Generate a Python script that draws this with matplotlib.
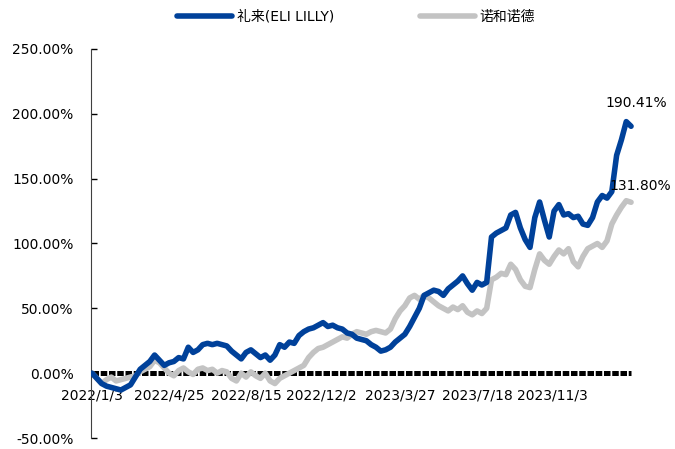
import matplotlib
matplotlib.use("Agg")
import matplotlib.pyplot as plt
import pandas as pd

plt.rcParams["font.family"] = ["DejaVu Sans", "Noto Sans CJK SC"]

# weekly closes, cumulative return (%) since 2022/1/3
dates = pd.date_range("2022-01-03", periods=113, freq="7D")

lilly = [
    0, -4, -8, -10, -11, -12, -13, -11, -9, -3,
    3, 6, 9, 14, 10, 6, 8, 9, 12, 11,
    20, 16, 18, 22, 23, 22, 23, 22, 21, 17,
    14, 11, 16, 18, 15, 12, 14, 10, 14, 22,
    20, 24, 23, 29, 32, 34, 35, 37, 39, 36,
    37, 35, 34, 31, 30, 27, 26, 25, 22, 20,
    17, 18, 20, 24, 27, 30, 36, 43, 50, 60,
    62, 64, 63, 60, 65, 68, 71, 75, 69, 64,
    70, 68, 70, 105, 108, 110, 112, 122, 124, 112,
    103, 97, 120, 132, 118, 105, 125, 130, 122, 123,
    120, 121, 115, 114, 120, 132, 137, 135, 140, 168,
    180, 194, 190.41,
]

novo = [
    0, -4, -8, -5, -3, -6, -5, -4, -3, -2,
    1, 3, 5, 10, 8, 4, 0, -2, 2, 4,
    1, -1, 3, 4, 2, 3, 0, 2, 1, -4,
    -6, 0, -3, 1, -2, -4, 0, -6, -8, -4,
    -2, 0, 2, 4, 6, 12, 16, 19, 20, 22,
    24, 26, 28, 27, 30, 32, 31, 30, 32, 33,
    32, 31, 34, 42, 48, 52, 58, 60, 57, 60,
    58, 55, 52, 50, 48, 51, 49, 52, 47, 45,
    48, 46, 50, 72, 74, 77, 76, 84, 80, 72,
    67, 66, 80, 92, 87, 84, 90, 95, 92, 96,
    86, 82, 90, 96, 98, 100, 97, 102, 115, 122,
    128, 133, 131.80,
]

zero = [0] * len(dates)

tick_dates = ["2022/1/3", "2022/4/25", "2022/8/15", "2022/12/2",
              "2023/3/27", "2023/7/18", "2023/11/3"]
y_ticks = [-50, 0, 50, 100, 150, 200, 250]

BLUE = "#00419A"
GRAY = "#C3C3C3"

fig = plt.figure(figsize=(6.75, 4.49), dpi=100)
ax = fig.add_axes([91 / 675, 1 - 438 / 449, (640 - 91) / 675, (438 - 49) / 449])

ax.plot(dates, zero, color="black", lw=3.6, linestyle=(0, (1.3, 0.35)),
        dash_capstyle="butt", zorder=1)
l1, = ax.plot(dates, lilly, color=BLUE, lw=4, solid_capstyle="round",
              solid_joinstyle="round", zorder=3, label="礼来(ELI LILLY)")
l2, = ax.plot(dates, novo, color=GRAY, lw=4, solid_capstyle="round",
              solid_joinstyle="round", zorder=2, label="诺和诺德")

ax.annotate(f"{lilly[-1]:.2f}%", (dates[-1], lilly[-1]), xytext=(3.5, 17),
            textcoords="offset points", ha="center", va="center", fontsize=10)
ax.annotate(f"{novo[-1]:.2f}%", (dates[-1], novo[-1]), xytext=(6.5, 12),
            textcoords="offset points", ha="center", va="center", fontsize=10)

start = pd.Timestamp("2022-01-03")
ax.set_xlim(start - pd.Timedelta(days=1.5), start + pd.Timedelta(days=797))
ax.set_ylim(-50, 250)

ax.set_yticks(y_ticks)
ax.set_yticklabels([f"{v:.2f}%" for v in y_ticks], fontsize=10)
ax.tick_params(axis="y", direction="in", length=4, width=1, pad=12.5)

ax.set_xticks(pd.to_datetime(tick_dates))
ax.set_xticklabels(tick_dates, fontsize=10)
ax.tick_params(axis="x", length=0, pad=11)

ax.spines["bottom"].set_position(("data", 0))
ax.spines["bottom"].set_visible(False)
ax.spines["top"].set_visible(False)
ax.spines["right"].set_visible(False)
ax.spines["left"].set_color("#404040")

fig.legend(handles=[l1, l2], loc="center", bbox_to_anchor=(356 / 675, 1 - 17 / 449),
           ncol=2, frameon=False, fontsize=10, handlelength=4,
           columnspacing=6.2, handletextpad=0.3)

fig.savefig("out.png", dpi=100)
